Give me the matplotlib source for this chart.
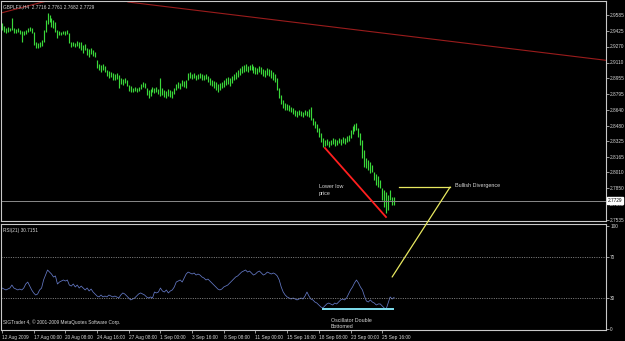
import numpy as np
import matplotlib
matplotlib.use("Agg")
import matplotlib.pyplot as plt
import matplotlib.transforms as mtransforms
from matplotlib.patches import ConnectionPatch

plt.rcParams['font.family'] = ['Liberation Sans', 'DejaVu Sans']

# ---------------- data ----------------
highs = [
 2.9505,2.9475,2.9455,2.9465,2.9455,2.9555,2.9455,2.9445,2.9455,2.9435,
 2.9425,2.9425,2.9435,2.9455,2.9465,2.9455,2.9415,2.9315,2.9305,2.9315,
 2.9335,2.9435,2.9535,2.9605,2.9585,2.9555,2.9535,2.9515,2.9435,2.9425,
 2.9415,2.9425,2.9425,2.9435,2.9405,2.9315,2.9315,2.9305,2.9325,2.9315,
 2.9315,2.9285,2.9295,2.9255,2.9245,2.9255,2.9235,2.9215,2.9135,2.9095,
 2.9085,2.9095,2.9075,2.9035,2.9025,2.9015,2.9005,2.8995,2.9005,2.8985,
 2.8955,2.8945,2.8955,2.8935,2.8885,2.8875,2.8855,2.8865,2.8855,2.8865,
 2.8895,2.8915,2.8905,2.8855,2.8835,2.8845,2.8865,2.8855,2.8865,2.8845,
 2.8955,2.8855,2.8835,2.8825,2.8845,2.8835,2.8825,2.8855,2.8895,2.8915,
 2.8905,2.8935,2.8925,2.8935,2.9005,2.9015,2.8995,2.9005,2.8985,2.8995,
 2.9005,2.8995,2.8985,2.8995,2.8975,2.8955,2.8935,2.8925,2.8915,2.8895,
 2.8905,2.8915,2.8935,2.8955,2.8965,2.8955,2.8975,2.8995,2.9015,2.9035,
 2.9055,2.9075,2.9085,2.9095,2.9075,2.9085,2.9095,2.9075,2.9065,2.9055,
 2.9075,2.9065,2.9045,2.9035,2.9055,2.9045,2.9035,2.9015,2.8995,2.8955,
 2.8855,2.8785,2.8735,2.8705,2.8695,2.8685,2.8665,2.8655,2.8635,2.8625,
 2.8635,2.8625,2.8615,2.8635,2.8625,2.8645,2.8665,2.8555,2.8525,2.8495,
 2.8455,2.8405,2.8355,2.8335,2.8345,2.8325,2.8335,2.8355,2.8345,2.8335,
 2.8355,2.8345,2.8365,2.8355,2.8375,2.8385,2.8435,2.8475,2.8495,2.8505,
 2.8455,2.8405,2.8335,2.8235,2.8155,2.8135,2.8115,2.8085,2.8015,2.7995,
 2.7975,2.7935,2.7855,2.7835,2.7815,2.7785,2.7835,2.7765,2.7761]
lows = [
 2.9435,2.9415,2.9405,2.9415,2.9425,2.9435,2.9405,2.9405,2.9415,2.9395,
 2.9315,2.9385,2.9395,2.9415,2.9425,2.9405,2.9285,2.9255,2.9255,2.9265,
 2.9275,2.9315,2.9415,2.9495,2.9515,2.9465,2.9455,2.9415,2.9355,2.9385,
 2.9385,2.9395,2.9385,2.9395,2.9305,2.9265,2.9275,2.9265,2.9275,2.9255,
 2.9235,2.9205,2.9235,2.9185,2.9165,2.9195,2.9175,2.9165,2.9055,2.9035,
 2.9015,2.9035,2.9015,2.8975,2.8955,2.8965,2.8935,2.8935,2.8945,2.8855,
 2.8895,2.8885,2.8905,2.8875,2.8825,2.8815,2.8815,2.8825,2.8815,2.8825,
 2.8845,2.8865,2.8855,2.8785,2.8755,2.8775,2.8815,2.8805,2.8815,2.8795,
 2.8775,2.8785,2.8765,2.8755,2.8775,2.8765,2.8755,2.8795,2.8835,2.8855,
 2.8845,2.8875,2.8865,2.8855,2.8935,2.8955,2.8945,2.8955,2.8935,2.8945,
 2.8955,2.8935,2.8935,2.8945,2.8915,2.8885,2.8875,2.8855,2.8835,2.8815,
 2.8835,2.8855,2.8865,2.8885,2.8895,2.8875,2.8905,2.8935,2.8945,2.8965,
 2.8985,2.9005,2.9015,2.9025,2.9015,2.9035,2.9035,2.9005,2.8995,2.8995,
 2.9015,2.8995,2.8975,2.8965,2.8985,2.8975,2.8955,2.8935,2.8915,2.8835,
 2.8755,2.8695,2.8655,2.8635,2.8635,2.8625,2.8615,2.8595,2.8575,2.8565,
 2.8585,2.8575,2.8565,2.8585,2.8575,2.8565,2.8535,2.8485,2.8455,2.8415,
 2.8365,2.8315,2.8265,2.8275,2.8285,2.8265,2.8285,2.8295,2.8275,2.8285,
 2.8305,2.8285,2.8305,2.8295,2.8315,2.8325,2.8355,2.8395,2.8425,2.8435,
 2.8365,2.8285,2.8155,2.8065,2.8055,2.8035,2.8005,2.8015,2.7935,2.7885,
 2.7865,2.7855,2.7735,2.7665,2.7605,2.7635,2.7735,2.7685,2.7682]
rsi = [
 39.8,38.8,37.9,38.8,39.8,42.7,39.8,38.8,37.9,38.8,
 37.9,39.8,43.7,45.6,41.7,37.9,35.0,33.0,34.0,37.9,
 39.8,47.6,52.4,57.3,55.3,53.4,50.5,51.5,43.7,45.6,
 46.6,47.6,46.6,47.6,42.7,41.7,43.7,40.8,42.7,39.8,
 41.7,39.8,37.9,39.8,36.9,38.8,35.9,34.0,32.0,31.1,
 33.0,31.1,32.0,31.1,33.0,32.0,31.1,32.0,31.1,30.1,
 33.0,35.0,34.0,32.0,30.1,28.2,29.1,30.1,32.0,34.0,
 35.0,34.0,33.0,31.1,30.1,31.1,30.1,35.9,35.0,35.9,
 39.8,36.9,35.9,37.9,35.0,36.9,37.9,40.8,45.6,46.6,
 47.6,45.6,49.5,53.4,55.3,54.4,53.4,54.4,52.4,53.4,
 52.4,50.5,49.5,47.6,48.5,46.6,44.7,42.7,40.8,38.8,
 37.9,38.8,40.8,41.7,42.7,44.7,46.6,48.5,50.5,51.5,
 53.4,55.3,56.3,57.3,55.3,56.3,54.4,52.4,53.4,55.3,
 56.3,54.4,52.4,53.4,55.3,54.4,53.4,54.4,53.4,51.5,
 47.6,40.8,35.9,33.0,31.1,30.1,29.1,30.1,29.1,28.2,
 29.1,30.1,29.1,32.0,35.9,32.0,29.1,28.2,26.2,25.2,
 23.3,21.4,20.4,22.3,24.3,25.2,24.3,23.3,25.2,24.3,
 26.2,28.2,29.1,28.2,30.1,34.0,37.9,40.8,44.7,47.6,
 44.7,40.8,37.9,32.0,27.2,26.2,28.2,26.2,25.2,23.3,
 24.3,24.3,22.3,20.4,19.4,25.2,31.1,29.1,30.7]

price_ticks = [2.9585, 2.9425, 2.9270, 2.9110, 2.8955, 2.8795, 2.8640,
               2.8480, 2.8325, 2.8165, 2.8010, 2.7850, 2.7695, 2.7535]
rsi_ticks = [0, 30, 70, 100]
time_tick_bars = [0, 16, 32, 48, 64, 80, 96, 112, 128, 144, 160, 176, 192]
time_labels = ['12 Aug 2009', '17 Aug 00:00', '20 Aug 08:00', '24 Aug 16:00',
               '27 Aug 08:00', '1 Sep 00:00', '3 Sep 16:00', '8 Sep 08:00',
               '11 Sep 00:00', '15 Sep 16:00', '18 Sep 08:00', '23 Sep 00:00',
               '25 Sep 16:00']
last_price = 2.7729
title = 'GBPLFX,H4  2.7716 2.7761 2.7682 2.7729'
rsi_title = 'RSI(21) 30.7151'

# trend / annotation anchors (bar index, value)
red_top1 = ([-0.5, 24.5], [2.9605, 2.9735])
red_top2 = ([63.6, 305.0], [2.9715, 2.9132])
lowerlow_line = ([163.1, 193.9], [2.8255, 2.7565])
yellow_h = ([200.5, 226.3], [2.7865, 2.7865])
yellow_rsi_end = (197.0, 50.5)
cyan_line = ([162.0, 197.5], [19.4, 19.4])

# ---------------- figure ----------------
W, H = 625, 341
fig = plt.figure(figsize=(W / 100, H / 100), dpi=100, facecolor='black')
ax1 = fig.add_axes([1 / W, 1 - 221 / H, 605 / W, 220 / H], facecolor='black')
ax2 = fig.add_axes([1 / W, 1 - 330 / H, 605 / W, 106 / H], facecolor='black')

GREEN = '#3ad83a'
FG = '#d8d8d8'
SPINE = '#c8c8c8'
FS = 3.4

x = np.arange(len(highs))
ax1.vlines(x, lows, highs, color=GREEN, lw=0.85)
ax1.axhline(last_price, color='#8a8a8a', lw=0.7)
ax1.plot(*red_top1, color='#9a1c1c', lw=0.8)
ax1.plot(*red_top2, color='#9a1c1c', lw=0.8)
ax1.plot(*lowerlow_line, color='#ff1f1f', lw=1.3)
ax1.plot(*yellow_h, color='#e8e860', lw=0.9)

ax1.set_xlim(-0.5, 305)
ax1.set_ylim(2.7525, 2.9725)
ax1.yaxis.tick_right()
ax1.set_yticks(price_ticks)
ax1.set_yticklabels([f'{v:.4f}' for v in price_ticks])
ax1.set_xticks([])
ax1.tick_params(axis='y', colors=FG, labelsize=FS, length=2, width=0.5, pad=1)
for s in ax1.spines.values():
    s.set_color(SPINE)
    s.set_linewidth(0.8)

trans = mtransforms.blended_transform_factory(ax1.transAxes, ax1.transData)
ax1.text(1.0025, last_price, f'{last_price:.4f}', transform=trans, fontsize=FS,
         color='black', va='center', ha='left',
         bbox=dict(facecolor='white', edgecolor='white', pad=0.5))

ax1.text(160.1, 2.7865, 'Lower low', color=FG, fontsize=3.9, va='center', ha='left')
ax1.text(160.1, 2.7795, 'price', color=FG, fontsize=3.9, va='center', ha='left')
ax1.text(228.8, 2.7875, 'Bullish Divergence', color=FG, fontsize=3.9,
         va='center', ha='left')
ax1.text(0.004, 0.985, title, transform=ax1.transAxes, color=FG, fontsize=FS,
         va='top', ha='left')

# RSI pane
ax2.plot(x, rsi, color='#6479c6', lw=0.55)
for lv in (30, 70):
    ax2.axhline(lv, color='#9a9a9a', lw=0.6, ls=(0, (1.2, 1.6)))
ax2.plot(*cyan_line, color='#80e0f0', lw=1.4)
ax2.set_xlim(-0.5, 305)
ax2.set_ylim(-1, 102)
ax2.yaxis.tick_right()
ax2.set_yticks(rsi_ticks)
ax2.set_yticklabels([str(v) for v in rsi_ticks])
ax2.tick_params(axis='y', colors=FG, labelsize=FS, length=2, width=0.5, pad=1)
ax2.set_xticks(time_tick_bars)
ax2.set_xticklabels(time_labels)
ax2.tick_params(axis='x', colors=FG, labelsize=FS, length=2.5, width=0.5, pad=0.8)
for lab in ax2.get_xticklabels():
    lab.set_horizontalalignment('left')
for s in ax2.spines.values():
    s.set_color(SPINE)
    s.set_linewidth(0.8)

ax2.text(166, 7.8, 'Oscillator Double', color=FG, fontsize=3.8, va='center', ha='left')
ax2.text(166, 2.0, 'Bottomed', color=FG, fontsize=3.8, va='center', ha='left')
ax2.text(0.004, 0.96, rsi_title, transform=ax2.transAxes, color=FG, fontsize=FS,
         va='top', ha='left')
ax2.text(0.004, 0.05, 'SIGTrader 4, \u00a9 2001-2009 MetaQuotes Software Corp.',
         transform=ax2.transAxes, color=FG, fontsize=FS, va='bottom', ha='left')

con = ConnectionPatch(xyA=(yellow_h[0][1], yellow_h[1][1]), coordsA=ax1.transData,
                      xyB=yellow_rsi_end, coordsB=ax2.transData,
                      color='#e8e860', lw=0.9)
fig.add_artist(con)

fig.savefig('out.png', dpi=100, facecolor='black')
